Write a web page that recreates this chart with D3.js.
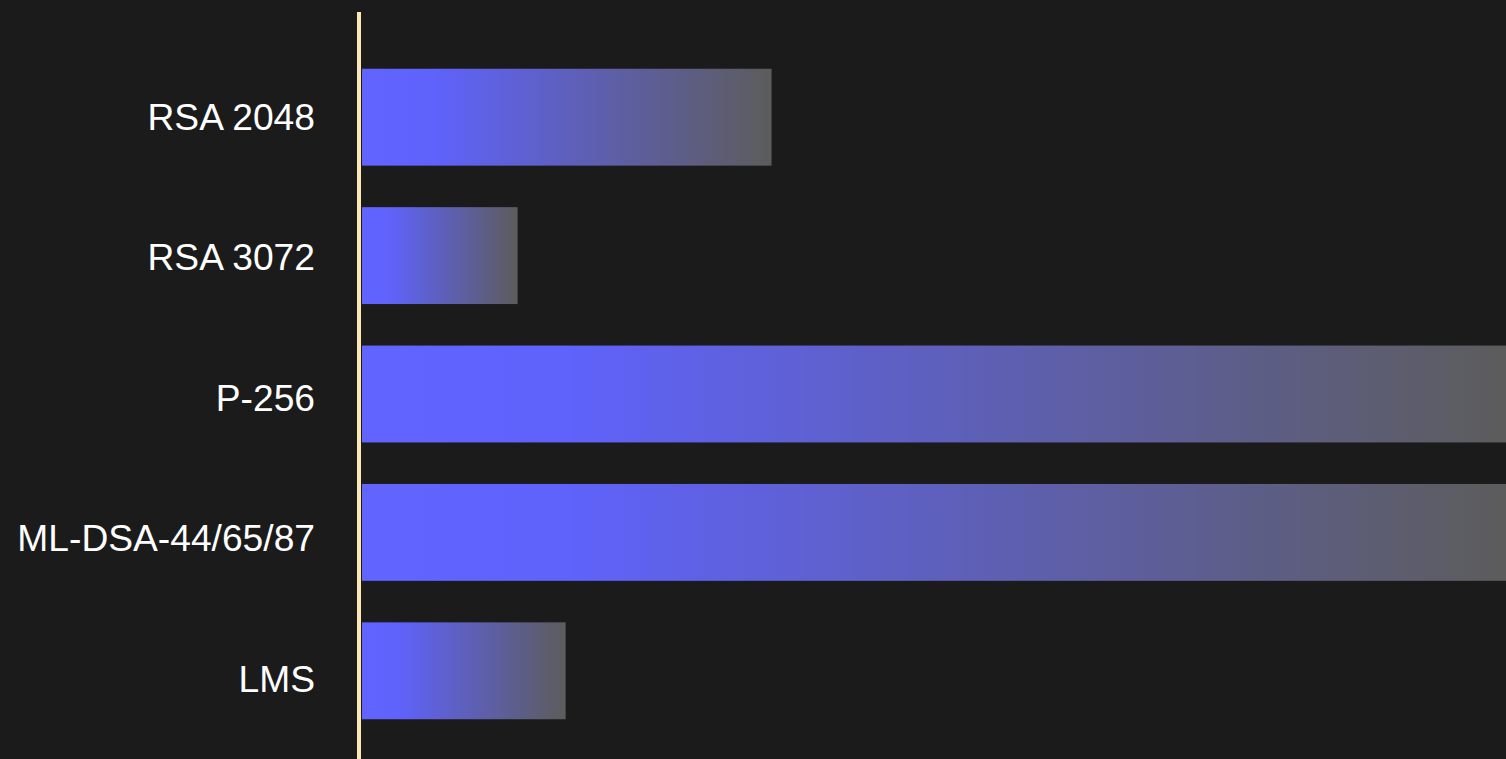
<!DOCTYPE html>
<html>
<head>
<meta charset="utf-8">
<script src="https://cdn.jsdelivr.net/npm/d3@7"></script>
<style>
  html, body { margin: 0; padding: 0; background: #1b1b1b; overflow: hidden; }
  svg { display: block; }
</style>
</head>
<body>
<svg id="chart" width="1506" height="759"></svg>
<script>
// Data
const categories = ["RSA 2048", "RSA 3072", "P-256", "ML-DSA-44/65/87", "LMS"];
const values = [35.8, 13.6, 100, 100, 17.8];

const W = 1506, H = 759;
const svg = d3.select("#chart");
svg.append("rect").attr("width", W).attr("height", H).attr("fill", "#1b1b1b");

const axisX = 359;
const x = d3.scaleLinear().domain([0, 100]).range([362, 1506]);
const y = d3.scaleBand().domain(categories).range([48, 740]).paddingInner(0.3).paddingOuter(0.15);
const yLabel = d3.scaleBand().domain(categories).range([47.7, 750.2]).paddingInner(0.28).paddingOuter(0.14);

const defs = svg.append("defs");
const grad = defs.append("linearGradient")
  .attr("id", "barGrad")
  .attr("x1", "0%").attr("x2", "100%").attr("y1", "0%").attr("y2", "0%");
grad.append("stop").attr("offset", "0%").attr("stop-color", "#6164ff");
grad.append("stop").attr("offset", "18%").attr("stop-color", "#5f62fb");
grad.append("stop").attr("offset", "100%").attr("stop-color", "#5c5c5c");

const data = categories.map((c, i) => ({ c, v: values[i] }));

svg.append("g").selectAll("rect")
  .data(data)
  .join("rect")
  .attr("x", x(0))
  .attr("y", d => y(d.c))
  .attr("width", d => x(d.v) - x(0))
  .attr("height", y.bandwidth())
  .attr("fill", "url(#barGrad)");

// Labels via axis
const axis = d3.axisLeft(yLabel).tickSize(0).tickPadding(44);
const gAxis = svg.append("g").attr("transform", `translate(${axisX},0)`).call(axis);
gAxis.select(".domain").remove();
gAxis.selectAll("text")
  .attr("fill", "#ffffff")
  .attr("font-family", "'Liberation Sans', Arial, sans-serif")
  .attr("font-size", "37.2px");

// Vertical baseline
svg.append("line")
  .attr("x1", axisX).attr("x2", axisX)
  .attr("y1", 12).attr("y2", H)
  .attr("stroke", "#fde9b6")
  .attr("stroke-width", 4);
</script>
</body>
</html>
